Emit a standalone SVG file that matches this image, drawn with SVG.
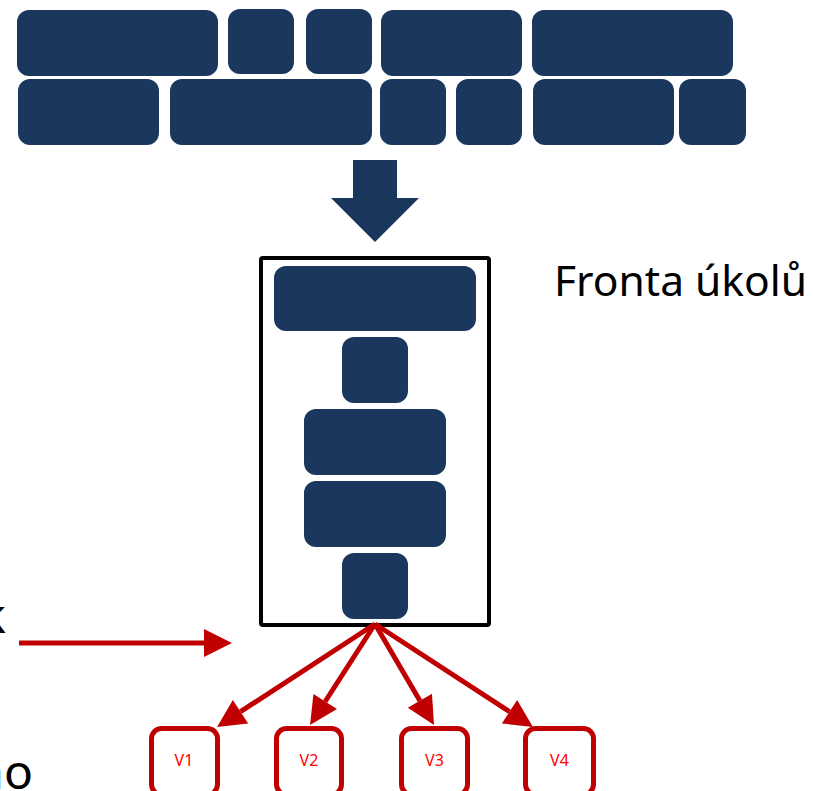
<svg xmlns="http://www.w3.org/2000/svg" width="813" height="791" viewBox="0 0 813 791">
<style>
.blk{fill:#1A375E}
.vb{fill:#fff;stroke:#C00000;stroke-width:5}
.vt{font-family:"Noto Sans","Open Sans",sans-serif;font-size:16px;fill:#FF0000;text-anchor:middle}
.big{font-family:"Noto Sans","Open Sans",sans-serif;fill:#000}
.ra{stroke:#C00000;stroke-width:5;fill:none;marker-end:url(#rh)}
</style>
<defs>
<marker id="rh" markerUnits="userSpaceOnUse" viewBox="0 -14 28 28" markerWidth="28" markerHeight="28" refX="0" refY="0" orient="auto" overflow="visible">
<path d="M0,-14 L28,0 L0,14 z" fill="#C00000"/>
</marker>
</defs>
<rect width="813" height="791" fill="#fff"/>
<g id="incoming">
<rect class="blk" x="17" y="10" width="201" height="66" rx="12"/>
<rect class="blk" x="228" y="9" width="66" height="65" rx="12"/>
<rect class="blk" x="306" y="9" width="66" height="65" rx="12"/>
<rect class="blk" x="381" y="10" width="141" height="66" rx="12"/>
<rect class="blk" x="532" y="10" width="201" height="66" rx="12"/>
<rect class="blk" x="18" y="79" width="141" height="66" rx="12"/>
<rect class="blk" x="170" y="79" width="202" height="66" rx="12"/>
<rect class="blk" x="380" y="79" width="66" height="66" rx="12"/>
<rect class="blk" x="456" y="79" width="66" height="66" rx="12"/>
<rect class="blk" x="533" y="79" width="141" height="66" rx="12"/>
<rect class="blk" x="679" y="79" width="67" height="66" rx="12"/>
</g>
<g id="down-arrow">
<polygon class="blk" points="353,160 397,160 397,198 419,198 375,242 331,198 353,198"/>
</g>
<g id="queue">
<rect x="261" y="258" width="228" height="367" rx="2" fill="#fff" stroke="#000" stroke-width="4"/>
<rect class="blk" x="274" y="266" width="202" height="65" rx="12"/>
<rect class="blk" x="342" y="337" width="66" height="66" rx="12"/>
<rect class="blk" x="304" y="409" width="142" height="66" rx="12"/>
<rect class="blk" x="304" y="481" width="142" height="66" rx="12"/>
<rect class="blk" x="342" y="553" width="66" height="66" rx="12"/>
</g>
<g id="queue-label">
<text class="big" x="554" y="296" font-size="41" textLength="253" lengthAdjust="spacingAndGlyphs">Fronta úkolů</text>
</g>
<g id="left-label-1">
<text class="big" x="6" y="633" font-size="48" text-anchor="end">k</text>
</g>
<g id="left-label-2">
<text class="big" x="33" y="789" font-size="48" text-anchor="end">no</text>
</g>
<g id="connectors">
<line class="ra" x1="19" y1="643" x2="204" y2="643"/>
<line class="ra" x1="375" y1="624" x2="240.5" y2="711.7"/>
<line class="ra" x1="375" y1="624" x2="325.2" y2="701.5"/>
<line class="ra" x1="375" y1="624" x2="419.9" y2="700.8"/>
<line class="ra" x1="375" y1="624" x2="509.5" y2="711.7"/>
</g>
<g id="V1"><rect class="vb" x="151.5" y="728.5" width="66" height="66" rx="10"/><text class="vt" x="184" y="766">V1</text></g>
<g id="V2"><rect class="vb" x="276.5" y="728.5" width="65" height="66" rx="10"/><text class="vt" x="309" y="766">V2</text></g>
<g id="V3"><rect class="vb" x="401.5" y="728.5" width="66" height="66" rx="10"/><text class="vt" x="434.5" y="766">V3</text></g>
<g id="V4"><rect class="vb" x="525.5" y="728.5" width="68" height="66" rx="10"/><text class="vt" x="559.5" y="766">V4</text></g>
</svg>
